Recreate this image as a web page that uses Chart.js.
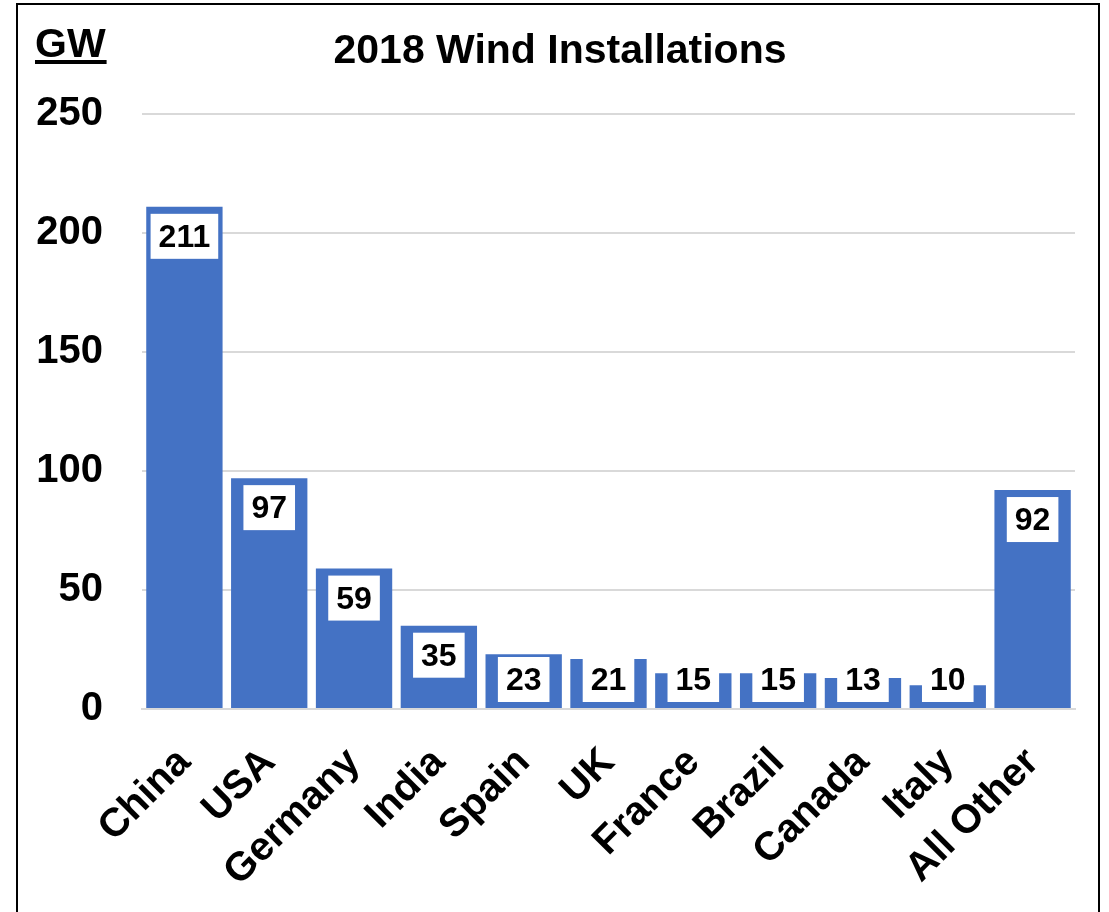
<!DOCTYPE html>
<html lang="en">
<head>
  <meta charset="UTF-8">
  <title>2018 Wind Installations</title>
  <script src="https://cdn.jsdelivr.net/npm/chart.js"></script>
  <style>
    body { margin: 0; background: #fff; }
    #wrap { position: relative; width: 1109px; height: 912px; }
  </style>
</head>
<body>
  <div id="wrap"><canvas id="chart"></canvas></div>

  <script>
    const countries = ['China', 'USA', 'Germany', 'India', 'Spain', 'UK', 'France', 'Brazil', 'Canada', 'Italy', 'All Other'];
    const capacityGW = [211, 97, 59, 35, 23, 21, 15, 15, 13, 10, 92];
    const yTicks = [0, 50, 100, 150, 200, 250];
    const chartTitle = '2018 Wind Installations';
    const unitLabel = 'GW';

    const FONT = 'Arial, "Liberation Sans", sans-serif';

    // white frame, black border, title and the underlined unit
    const framePlugin = {
      id: 'frame',
      beforeDraw(chart) {
        const ctx = chart.ctx;
        ctx.save();
        ctx.fillStyle = '#fff';
        ctx.fillRect(0, 0, chart.width, chart.height);
        ctx.strokeStyle = '#000';
        ctx.lineWidth = 2;
        ctx.strokeRect(17, 4, 1082, 1000);

        ctx.fillStyle = '#000';
        ctx.font = 'bold 41px ' + FONT;
        ctx.textBaseline = 'alphabetic';
        ctx.textAlign = 'center';
        ctx.fillText(chartTitle, 560, 63);

        ctx.textAlign = 'left';
        ctx.fillText(unitLabel, 35, 57);
        const w = ctx.measureText(unitLabel).width;
        ctx.fillRect(35, 60, w + 1, 4);
        ctx.restore();
      }
    };

    // value boxes inside the top of each bar
    const boxLabels = {
      id: 'boxLabels',
      afterDatasetsDraw(chart) {
        const ctx = chart.ctx;
        const meta = chart.getDatasetMeta(0);
        const base = chart.scales.y.getPixelForValue(0);
        const boxH = 45;
        ctx.save();
        ctx.font = 'bold 32px ' + FONT;
        ctx.textAlign = 'center';
        ctx.textBaseline = 'middle';
        meta.data.forEach((bar, i) => {
          const txt = String(capacityGW[i]);
          const w = ctx.measureText(txt).width + 16;
          let cy = bar.y + 7 + boxH / 2;
          cy = Math.min(cy, base - 7 - boxH / 2);
          ctx.fillStyle = '#fff';
          ctx.fillRect(bar.x - w / 2, cy - boxH / 2, w, boxH);
          ctx.fillStyle = '#000';
          ctx.fillText(txt, bar.x, cy + 2);
        });
        ctx.restore();
      }
    };

    new Chart(document.getElementById('chart'), {
      type: 'bar',
      data: {
        labels: countries,
        datasets: [{
          data: capacityGW,
          backgroundColor: '#4472C4',
          borderWidth: 0,
          barPercentage: 0.9,
          categoryPercentage: 1.0
        }]
      },
      options: {
        responsive: true,
        maintainAspectRatio: false,
        animation: false,
        layout: { padding: { top: 114, right: 34, left: 0, bottom: 0 } },
        plugins: {
          legend: { display: false },
          title: { display: false },
          tooltip: { enabled: false }
        },
        scales: {
          x: {
            grid: { display: false },
            border: { color: '#d9d9d9', width: 2 },
            ticks: {
              color: '#000',
              font: { family: FONT, size: 40, weight: 'bold' },
              maxRotation: 45,
              minRotation: 45,
              autoSkip: false,
              padding: 22
            },
            afterFit(scale) { scale.height = 203; }
          },
          y: {
            min: 0,
            max: yTicks[yTicks.length - 1],
            afterBuildTicks(scale) { scale.ticks = yTicks.map(v => ({ value: v })); },
            grid: { color: '#d9d9d9', lineWidth: 2, drawTicks: false },
            border: { display: false },
            ticks: {
              color: '#000',
              font: { family: FONT, size: 40, weight: 'bold' },
              padding: 39
            },
            afterFit(scale) { scale.width = 142; }
          }
        }
      },
      plugins: [framePlugin, boxLabels]
    });
  </script>
</body>
</html>
